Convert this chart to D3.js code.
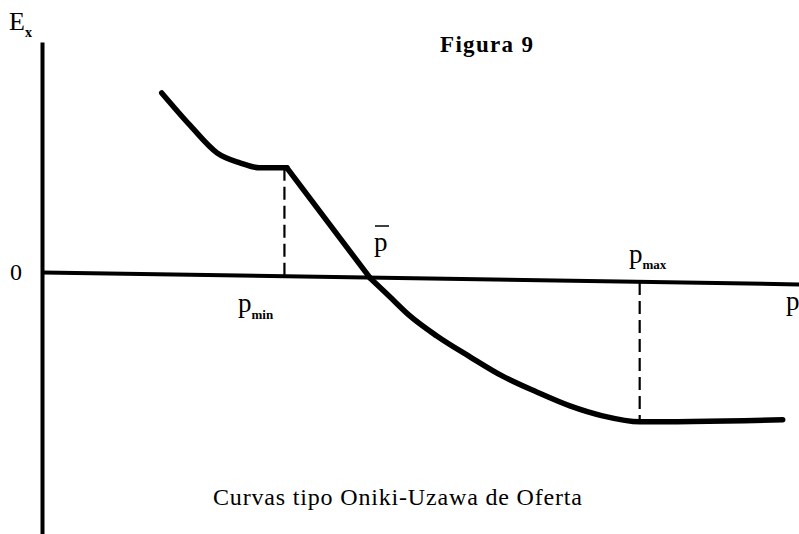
<!DOCTYPE html>
<html>
<head>
    <meta charset="utf-8" />
    <title>Figura 9</title>
    <style>
        body { margin: 0; background: #fff; }
        text { font-family: "Liberation Serif", "DejaVu Serif", serif; fill: #000; }
    </style>
    <script src="https://cdn.jsdelivr.net/npm/d3@7"></script>
</head>
<body>
    <div id="svg"></div>
    <script>
        // curve (p, Ex); the kink sits at p_min
        var curveP = [2.42, 2.99, 3.54, 4.0, 4.40, 4.95, 6.63, 7.03, 7.43, 7.98, 8.65, 9.31, 10.0, 10.67, 11.33, 12.08, 14.97];
        var curveE = [3.61, 2.96, 2.40, 2.20, 2.10, 2.10, -0.12, -0.50, -0.88, -1.29, -1.71, -2.10, -2.42, -2.70, -2.90, -3.02, -2.98];
        var pMin = 4.90, pMinE = 2.10;
        var pMax = 12.08, pMaxE = -3.02;
        var pBar = 6.63;

        var width = 799,
            height = 534;

        var svg = d3.select('#svg')
            .append('svg')
            .attr('width', width)
            .attr('height', height);

        var xScale = d3.scaleLinear()
            .domain([0, 15.3])
            .range([42, 799]);

        var yScale = d3.scaleLinear()
            .domain([-5.282, 4.637])
            .range([534, 42]);

        var data = curveP.map((p, i) => [p, curveE[i]]);
        var kink = curveP.indexOf(4.95);
        var cross = curveP.indexOf(pBar);

        // axes without ticks (the scanned p axis leans slightly)
        var gX = svg.append('g')
            .attr('transform', 'translate(0, ' + yScale(0) + ') rotate(0.9 ' + xScale(0) + ' 0)')
            .call(d3.axisBottom(xScale).tickValues([]).tickSizeOuter(0));
        var gY = svg.append('g')
            .attr('transform', 'translate(' + xScale(0) + ', 0)')
            .call(d3.axisLeft(yScale).tickValues([]).tickSizeOuter(0));
        svg.selectAll('.domain')
            .attr('stroke', '#000')
            .attr('stroke-width', 4);

        // dashed guides
        svg.append('line')
            .attr('x1', xScale(pMin)).attr('x2', xScale(pMin))
            .attr('y1', yScale(pMinE)).attr('y2', yScale(0) + 3)
            .attr('stroke', '#000').attr('stroke-width', 2.2)
            .attr('stroke-dasharray', '13,6');
        svg.append('line')
            .attr('x1', xScale(pMax)).attr('x2', xScale(pMax))
            .attr('y1', yScale(0) + 10).attr('y2', yScale(pMaxE))
            .attr('stroke', '#000').attr('stroke-width', 2.2)
            .attr('stroke-dasharray', '13,6');

        var smooth = d3.line()
            .x(d => xScale(d[0]))
            .y(d => yScale(d[1]))
            .curve(d3.curveMonotoneX);
        var straight = d3.line()
            .x(d => xScale(d[0]))
            .y(d => yScale(d[1]));

        // curved top, straight drop through p-bar, curved tail
        [[data.slice(0, kink + 1), smooth],
         [data.slice(kink, cross + 1), straight],
         [data.slice(cross), smooth]].forEach(function(s) {
            svg.append('path')
                .datum(s[0])
                .attr('d', s[1])
                .attr('fill', 'none')
                .attr('stroke', '#000')
                .attr('stroke-width', 5.5)
                .attr('stroke-linecap', 'round')
                .attr('stroke-linejoin', 'round');
        });

        // labels
        var ex = svg.append('text')
            .attr('x', 9).attr('y', 30)
            .style('font-size', '26px');
        ex.append('tspan').text('E');
        ex.append('tspan').attr('dy', 7).style('font-size', '14px').style('font-weight', 'bold').text('x');

        svg.append('text')
            .attr('x', 10).attr('y', 280)
            .style('font-size', '24px')
            .text('0');

        var pmin = svg.append('text')
            .attr('x', 238).attr('y', 312)
            .style('font-size', '27px');
        pmin.append('tspan').text('p');
        pmin.append('tspan').attr('dy', 7).style('font-size', '13px').style('font-weight', 'bold').text('min');

        var pmax = svg.append('text')
            .attr('x', 629).attr('y', 263)
            .style('font-size', '27px');
        pmax.append('tspan').text('p');
        pmax.append('tspan').attr('dy', 6).style('font-size', '13px').style('font-weight', 'bold').text('max');

        svg.append('text')
            .attr('x', 374).attr('y', 251)
            .style('font-size', '27px')
            .text('p');
        svg.append('line')
            .attr('x1', 375).attr('x2', 389)
            .attr('y1', 226).attr('y2', 226)
            .attr('stroke', '#000').attr('stroke-width', 1.5);

        svg.append('text')
            .attr('x', 786).attr('y', 310)
            .style('font-size', '27px')
            .text('p');

        svg.append('text')
            .attr('x', 440).attr('y', 52)
            .attr('textLength', 93)
            .style('font-size', '23px')
            .style('font-weight', 'bold')
            .text('Figura 9');

        svg.append('text')
            .attr('x', 213).attr('y', 505)
            .attr('textLength', 369)
            .style('font-size', '24px')
            .text('Curvas tipo Oniki-Uzawa de Oferta');
    </script>
</body>
</html>
